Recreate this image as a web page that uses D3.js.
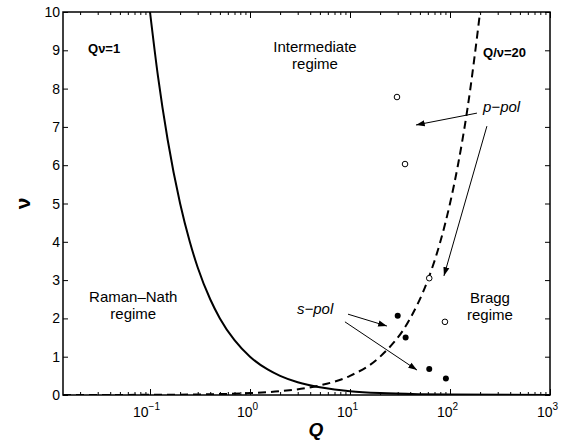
<!DOCTYPE html>
<html>
<head>
<meta charset="utf-8">
<script src="https://cdn.jsdelivr.net/npm/d3@7"></script>
<style>
  body { margin: 0; background: #fff; }
  svg { font-family: "Liberation Sans", Arial, Helvetica, sans-serif; }
</style>
</head>
<body>
<div id="chart"></div>
<script>
// Q values sampled along the two boundary curves
var qRamanNath = [0.1, 0.12, 0.15, 0.2, 0.25, 0.3, 0.4, 0.5, 0.7, 1, 1.5, 2, 3, 5, 7, 10, 20, 50, 100, 1000];
var nuRamanNath = [10, 8.33, 6.67, 5, 4, 3.33, 2.5, 2, 1.43, 1, 0.667, 0.5, 0.333, 0.2, 0.143, 0.1, 0.05, 0.02, 0.01, 0.001];
var qBragg = [0.0135, 0.1, 0.5, 1, 2, 5, 10, 20, 40, 60, 80, 100, 120, 150, 200];
var nuBragg = [0.0007, 0.005, 0.025, 0.05, 0.1, 0.25, 0.5, 1, 2, 3, 4, 5, 6, 7.5, 10];

// measured points
var pPolQ = [29.5, 35.5, 62, 89];
var pPolNu = [7.78, 6.03, 3.05, 1.91];
var sPolQ = [30, 36, 62, 91];
var sPolNu = [2.07, 1.5, 0.68, 0.43];

var yTicks = [0, 1, 2, 3, 4, 5, 6, 7, 8, 9, 10];
var xDecades = [-1, 0, 1, 2, 3];

// arrows: [Q0, nu0, Q1, nu1]
var arrows = [
    [186, 7.36, 45.7, 7.05],
    [234, 7.02, 87, 3.11],
    [9.55, 2.11, 23.4, 1.80],
    [8.9, 1.91, 46.8, 0.65]
];

var svg = d3.select("#chart").append("svg")
    .attr("width", 573)
    .attr("height", 442);

var margin = { top: 12, right: 23, bottom: 47, left: 63 },
    width = 573 - margin.left - margin.right,
    height = 442 - margin.top - margin.bottom;

var x = d3.scaleLog().domain([Math.pow(10, -1.87), 1000]).range([margin.left, margin.left + width]);
var y = d3.scaleLinear().domain([0, 10]).range([margin.top + height, margin.top]);

svg.append("rect").attr("width", 573).attr("height", 442).attr("fill", "#fff");

svg.append("defs").append("clipPath").attr("id", "clip")
    .append("rect")
    .attr("x", margin.left).attr("y", margin.top)
    .attr("width", width).attr("height", height);

svg.select("defs").append("marker")
    .attr("id", "arrow")
    .attr("viewBox", "0 -4 10 8")
    .attr("refX", 10).attr("refY", 0)
    .attr("markerWidth", 9).attr("markerHeight", 7)
    .attr("markerUnits", "userSpaceOnUse")
    .attr("orient", "auto")
    .append("path")
    .attr("d", "M0,-3.5L10,0L0,3.5Z")
    .attr("fill", "#000");

// minor + major ticks for the log axis
var minorTicks = [];
xDecades.concat([-2]).forEach(function (d) {
    for (var k = 2; k <= 9; k++) {
        var v = k * Math.pow(10, d);
        if (v >= x.domain()[0] && v <= x.domain()[1]) minorTicks.push(v);
    }
});
var majorTicks = xDecades.map(function (d) { return Math.pow(10, d); });

var axes = svg.append("g").attr("class", "axes");

axes.append("g")
    .attr("transform", "translate(0," + (margin.top + height) + ")")
    .call(d3.axisBottom(x).tickValues(minorTicks).tickSize(-3).tickFormat(""));
axes.append("g")
    .attr("transform", "translate(0," + (margin.top + height) + ")")
    .call(d3.axisBottom(x).tickValues(majorTicks).tickSize(-6).tickFormat(""));
axes.append("g")
    .attr("transform", "translate(0," + margin.top + ")")
    .call(d3.axisTop(x).tickValues(minorTicks).tickSize(-3).tickFormat(""));
axes.append("g")
    .attr("transform", "translate(0," + margin.top + ")")
    .call(d3.axisTop(x).tickValues(majorTicks).tickSize(-6).tickFormat(""));
axes.append("g")
    .attr("transform", "translate(" + margin.left + ",0)")
    .call(d3.axisLeft(y).tickValues(yTicks).tickSize(-5).tickFormat(""));
axes.append("g")
    .attr("transform", "translate(" + (margin.left + width) + ",0)")
    .call(d3.axisRight(y).tickValues(yTicks).tickSize(-5).tickFormat(""));

axes.selectAll("path.domain").remove();
axes.selectAll(".tick line").attr("stroke", "#000").attr("stroke-width", 1);

// y tick labels
svg.append("g").selectAll("text")
    .data(yTicks)
    .enter()
    .append("text")
    .attr("x", margin.left - 3)
    .attr("y", function (d) { return y(d) + 5; })
    .attr("text-anchor", "end")
    .attr("font-size", 14)
    .text(function (d) { return d; });

// x tick labels with superscript exponent
var xl = svg.append("g").selectAll("text")
    .data(xDecades)
    .enter()
    .append("text")
    .attr("x", function (d) { return x(Math.pow(10, d)) - (d < 0 ? 17 : 13); })
    .attr("y", margin.top + height + 22)
    .attr("font-size", 14);
xl.append("tspan").text("10");
xl.append("tspan")
    .attr("dy", -7)
    .attr("font-size", 10)
    .text(function (d) { return d < 0 ? "\u2212" + (-d) : d; });

// curves
var line = d3.line()
    .x(function (d) { return x(d[0]); })
    .y(function (d) { return y(d[1]); })
    .curve(d3.curveMonotoneX);

var plot = svg.append("g").attr("clip-path", "url(#clip)");

plot.append("path")
    .datum(qRamanNath.map(function (q, i) { return [q, nuRamanNath[i]]; }))
    .attr("d", line)
    .attr("fill", "none")
    .attr("stroke", "#000")
    .attr("stroke-width", 2);

plot.append("path")
    .datum(qBragg.map(function (q, i) { return [q, nuBragg[i]]; }))
    .attr("d", line)
    .attr("fill", "none")
    .attr("stroke", "#000")
    .attr("stroke-width", 2)
    .attr("stroke-dasharray", "8,5");

// points
plot.selectAll("circle.p")
    .data(pPolQ)
    .enter()
    .append("circle")
    .attr("class", "p")
    .attr("cx", function (d) { return x(d); })
    .attr("cy", function (d, i) { return y(pPolNu[i]); })
    .attr("r", 2.8)
    .attr("fill", "#fff")
    .attr("stroke", "#000")
    .attr("stroke-width", 1);

plot.selectAll("circle.s")
    .data(sPolQ)
    .enter()
    .append("circle")
    .attr("class", "s")
    .attr("cx", function (d) { return x(d); })
    .attr("cy", function (d, i) { return y(sPolNu[i]); })
    .attr("r", 3)
    .attr("fill", "#000");

// arrows
svg.append("g").selectAll("line")
    .data(arrows)
    .enter()
    .append("line")
    .attr("x1", function (d) { return x(d[0]); })
    .attr("y1", function (d) { return y(d[1]); })
    .attr("x2", function (d) { return x(d[2]); })
    .attr("y2", function (d) { return y(d[3]); })
    .attr("stroke", "#000")
    .attr("stroke-width", 1)
    .attr("marker-end", "url(#arrow)");

// frame
svg.append("rect")
    .attr("x", margin.left).attr("y", margin.top)
    .attr("width", width).attr("height", height)
    .attr("fill", "none")
    .attr("stroke", "#000")
    .attr("stroke-width", 1.5);

// region labels
function label(q, nu, lines, opts) {
    var t = svg.append("text")
        .attr("x", x(q))
        .attr("y", y(nu))
        .attr("text-anchor", opts.anchor || "middle")
        .attr("font-size", opts.size || 15)
        .attr("font-weight", opts.weight || "normal")
        .attr("font-style", opts.style || "normal");
    lines.forEach(function (s, i) {
        t.append("tspan").attr("x", x(q)).attr("dy", i ? 17 : 0).text(s);
    });
}

label(4.47, 8.95, ["Intermediate", "regime"], {});
label(0.068, 2.43, ["Raman\u2013Nath", "regime"], {});
label(251, 2.40, ["Bragg", "regime"], {});
label(0.024, 8.93, ["Q\u03bd=1"], { anchor: "start", size: 13, weight: "bold" });
label(214, 8.83, ["Q/\u03bd=20"], { anchor: "start", size: 13, weight: "bold" });
label(214, 7.40, ["p\u2212pol"], { anchor: "start", style: "italic" });
label(2.95, 2.11, ["s\u2212pol"], { anchor: "start", style: "italic" });

// axis titles
svg.append("text")
    .attr("transform", "translate(30," + y(5) + ") rotate(-90)")
    .attr("text-anchor", "middle")
    .attr("font-size", 21)
    .attr("font-weight", "bold")
    .text("\u03bd");

svg.append("text")
    .attr("x", x(Math.pow(10, 0.66)))
    .attr("y", 436)
    .attr("text-anchor", "middle")
    .attr("font-size", 19)
    .attr("font-weight", "bold")
    .attr("font-style", "italic")
    .text("Q");
</script>
</body>
</html>
